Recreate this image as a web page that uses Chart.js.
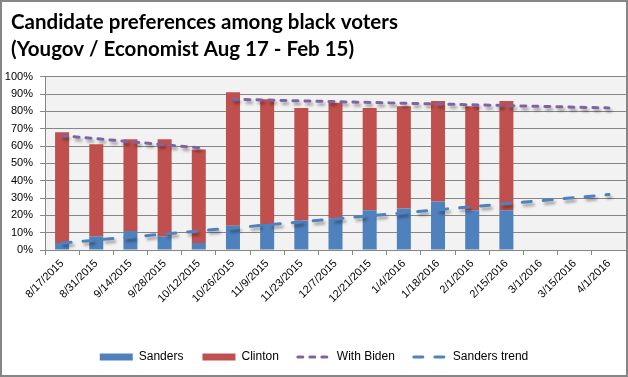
<!DOCTYPE html>
<html>
<head>
<meta charset="utf-8">
<script src="https://cdn.jsdelivr.net/npm/chart.js"></script>
<style>
html, body { margin: 0; padding: 0; background: #fff; }
canvas { display: block; }
</style>
</head>
<body>
<canvas id="chart" width="628" height="377"></canvas>
<script>
// poll dates (x categories)
var categories = ['8/17/2015', '8/31/2015', '9/14/2015', '9/28/2015', '10/12/2015', '10/26/2015',
    '11/9/2015', '11/23/2015', '12/7/2015', '12/21/2015', '1/4/2016', '1/18/2016', '2/1/2016',
    '2/15/2016', '3/1/2016', '3/15/2016', '4/1/2016'];

// percent values
var sanders = [4, 8, 11, 8, 4, 14, 15, 17, 18, 23, 24, 28, 23, 23, null, null, null];
var clinton = [64, 53, 53, 56, 54, 77, 72, 65, 67, 59, 59, 58, 60, 63, null, null, null];

// trend lines, only end points
var bidenEarly = [66, null, null, null, 59, null, null, null, null, null, null, null, null, null, null, null, null];
var bidenLate = [null, null, null, null, null, 87, null, null, null, null, null, null, null, null, null, null, 82];
var sandersTrend = [4, null, null, null, null, null, null, null, null, null, null, null, null, null, null, null, 32];

var yTicks = [0, 10, 20, 30, 40, 50, 60, 70, 80, 90, 100];

var axisGray = '#868686';
var blue = '#4F81BD', red = '#C0504D', purple = '#8064A2';
var labelFont = "'Liberation Sans', Arial, sans-serif";

var bgPlugin = {
    id: 'bg',
    afterLayout: function(chart) {
        // title sits a bit further right than the axis labels
        if (chart.titleBlock) chart.titleBlock.left = 11;
    },
    beforeDraw: function(chart) {
        var ctx = chart.ctx, a = chart.chartArea;
        ctx.save();
        ctx.fillStyle = '#fff';
        ctx.fillRect(0, 0, chart.width, chart.height);
        ctx.fillStyle = '#F2F2F2';
        ctx.fillRect(a.left, a.top, a.right - a.left, a.bottom - a.top);
        ctx.restore();
    },
    afterDraw: function(chart) {
        var ctx = chart.ctx;
        ctx.save();
        ctx.strokeStyle = axisGray;
        ctx.lineWidth = 2;
        ctx.strokeRect(1, 1, chart.width - 2, chart.height - 2);
        ctx.restore();
    }
};

var shadowPlugin = {
    id: 'lineShadow',
    beforeDatasetDraw: function(chart, args) {
        if (args.meta.type !== 'line') return;
        var ctx = chart.ctx;
        ctx.save();
        ctx.shadowColor = 'rgba(0,0,0,0.35)';
        ctx.shadowBlur = 3;
        ctx.shadowOffsetX = 2;
        ctx.shadowOffsetY = 3;
    },
    afterDatasetDraw: function(chart, args) {
        if (args.meta.type !== 'line') return;
        chart.ctx.restore();
    }
};

function trendLine(label, data, color, dash, stack) {
    return {
        type: 'line',
        label: label,
        data: data,
        borderColor: color,
        backgroundColor: color,
        borderWidth: 3,
        borderDash: dash,
        borderCapStyle: 'round',
        pointRadius: 0,
        pointHoverRadius: 0,
        pointStyle: 'line',
        spanGaps: true,
        fill: false,
        stack: stack,
        order: 1
    };
}

function legendLabels(chart) {
    var items = Chart.defaults.plugins.legend.labels.generateLabels(chart);
    items.forEach(function(item) {
        var ds = chart.data.datasets[item.datasetIndex];
        if (ds.type === 'line') {
            item.lineDash = ds.borderDash;
            item.lineWidth = 3;
            item.lineCap = 'round';
            item.strokeStyle = ds.borderColor;
        } else {
            item.lineWidth = 0;
            item.fillStyle = ds.backgroundColor;
        }
    });
    return items;
}

var ctx = document.getElementById('chart').getContext('2d');
var myChart = new Chart(ctx, {
    type: 'bar',
    data: {
        labels: categories,
        datasets: [
            { label: 'Sanders', data: sanders, backgroundColor: blue, pointStyle: 'rect', stack: 'bars', order: 2,
              barPercentage: 0.41, categoryPercentage: 1 },
            { label: 'Clinton', data: clinton, backgroundColor: red, pointStyle: 'rect', stack: 'bars', order: 2,
              barPercentage: 0.41, categoryPercentage: 1 },
            trendLine('With Biden', bidenEarly, purple, [5, 7], 'b1'),
            trendLine('With Biden', bidenLate, purple, [5, 7], 'b2'),
            trendLine('Sanders trend', sandersTrend, blue, [9, 12], 't')
        ]
    },
    options: {
        responsive: false,
        devicePixelRatio: 1,
        animation: false,
        layout: { padding: { left: 2, right: 2, top: 8, bottom: 4 } },
        plugins: {
            title: {
                display: true,
                align: 'start',
                text: ['Candidate preferences among black voters', '(Yougov / Economist Aug 17 - Feb 15)'],
                color: '#000',
                font: { family: "Lato, 'Open Sans', sans-serif", size: 20.5, weight: 'bold', lineHeight: 1.36 },
                padding: { top: 0, bottom: 13 }
            },
            legend: {
                position: 'bottom',
                labels: {
                    usePointStyle: true,
                    pointStyleWidth: 33,
                    boxHeight: 7,
                    padding: 19,
                    color: '#000',
                    font: { family: labelFont, size: 12 },
                    generateLabels: legendLabels,
                    filter: function(item) { return item.datasetIndex !== 3; },
                    sort: function(a, b) { return a.datasetIndex - b.datasetIndex; }
                }
            },
            tooltip: { enabled: false }
        },
        scales: {
            x: {
                stacked: true,
                offset: true,
                grid: { offset: true, drawOnChartArea: false, color: axisGray, tickLength: 5 },
                border: { color: axisGray },
                ticks: {
                    minRotation: 45, maxRotation: 45, autoSkip: false, padding: 2,
                    color: '#000', font: { family: labelFont, size: 11 }
                },
                afterFit: function(s) { s.height = 82; }
            },
            y: {
                stacked: true,
                min: 0, max: 100,
                afterBuildTicks: function(s) { s.ticks = yTicks.map(function(v) { return { value: v }; }); },
                grid: { color: axisGray, tickLength: 5 },
                border: { color: axisGray },
                ticks: {
                    padding: 7,
                    color: '#000',
                    font: { family: labelFont, size: 11 },
                    callback: function(v) { return v + '%'; }
                },
                afterFit: function(s) { s.width = 43; }
            }
        }
    },
    plugins: [bgPlugin, shadowPlugin]
});
</script>
</body>
</html>
